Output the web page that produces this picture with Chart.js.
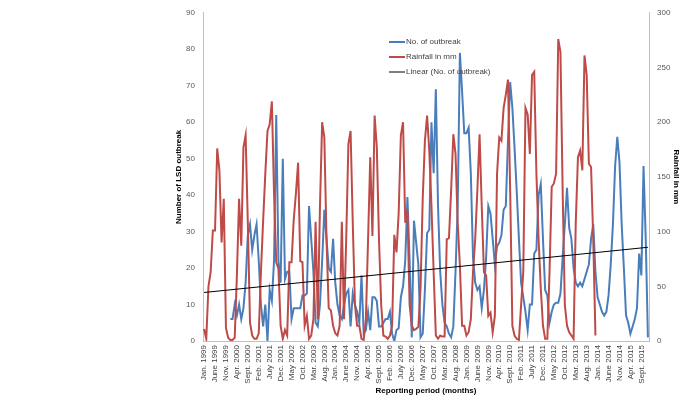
<!DOCTYPE html>
<html>
<head>
<meta charset="utf-8">
<script src="https://cdn.jsdelivr.net/npm/chart.js@4.4.1/dist/chart.umd.min.js"></script>
<style>
  html, body { margin: 0; padding: 0; background: #fff; }
  #lsdChart { display: block; }
</style>
</head>
<body>
<canvas id="lsdChart" width="683" height="398"></canvas>
<script>
Chart.defaults.font.family = "'Liberation Sans', Arial, sans-serif";
Chart.defaults.font.size = 8;
Chart.defaults.color = '#595959';

// months Jan 1999 .. Dec 2015
const monthNames = ['Jan.', 'Feb.', 'Mar.', 'Apr.', 'May', 'June', 'July', 'Aug.', 'Sept.', 'Oct.', 'Nov.', 'Dec.'];
const firstYear = 1999;
const lastYear = 2015;

// no. of LSD outbreaks per month (starts Jan 2000)
const outbreaks = [
  null, null, null, null, null, null, null, null, null, null, null, null,
  6, 6, 10, 7, 10, 6, 9, 16, 29, 32, 25, 29,
  32, 22, 10, 4, 10, 0, 14, 11, 22, 62, 22, 16,
  50, 17, 19, 19, 6, 9, 9, 9, 9, 12.5, 12.5, 13,
  37, 28, 19, 5, 4, 10, 22, 36, 28, 20, 19, 28,
  16, 10, 7, 6, 10, 13, 14, 4, 13, 10, 8, 5,
  18, 2, 3, 8, 3, 12, 12, 11, 4, 4, 5, 6,
  6, 8, 2, 0, 3, 3.5, 12, 15, 22, 39.5, 22, 1,
  33, 27, 21, 1, 2, 14, 29.6, 30.5, 60, 46, 69, 37,
  19, 10, 5, 4, 2, 1, 4, 19, 37, 79, 68.5, 57,
  57, 58.5, 46, 23, 16, 14, 15, 9, 14, 23, 37, 35,
  28, 21, 26, 27, 29, 36, 37, 55, 71, 64, 53, 41,
  28, 16, 12, 8, 3, 10, 10, 24, 25, 40, 43, 28,
  14, 12.5, 5, 8, 10, 10.5, 10.5, 13, 23, 32, 42, 31,
  28, 20, 16, 15, 16, 15, 17, 19, 21, 28, 32, 19,
  12, 10, 8, 7, 8, 12.5, 21, 32, 48, 56, 49, 32,
  20, 7, 5, 2, 4, 6, 9, 24, 18, 48, 28, 1
];

// monthly rainfall in mm (ends Dec 2013)
const rainfall = [
  11, 2, 50, 63, 101, 101, 176, 156, 90, 130, 12, 3,
  1, 1, 3, 60, 130, 87, 177, 188, 108, 17, 5, 2,
  2, 7, 63, 110, 153, 192, 198, 219, 135, 72, 66, 14,
  2, 10, 5, 72, 72, 111, 135, 163, 73, 72, 14, 23,
  2, 5, 20, 109, 20, 123, 200, 186, 93, 30, 28, 14,
  7, 5, 14, 109, 20, 93, 180, 192, 108, 33, 14, 14,
  2, 1, 20, 93, 168, 96, 206, 177, 93, 33, 5, 4,
  2, 5, 14, 97, 81, 117, 188, 200, 108, 120, 33, 14,
  10, 11, 13, 48, 130, 183, 206, 174, 123, 63, 5, 2,
  5, 4, 4, 93, 94, 138, 189, 171, 108, 69, 14, 14,
  5, 8, 20, 63, 93, 138, 189, 123, 63, 60, 23, 26,
  8, 23, 153, 186, 183, 213, 225, 239, 138, 14, 5, 2,
  1, 33, 63, 213, 207, 171, 243, 246, 153, 93, 48, 14,
  2, 2, 63, 141, 144, 153, 276, 264, 138, 33, 14, 8,
  5, 2, 108, 168, 174, 156, 261, 243, 162, 159, 93, 5
];

// linear trend of outbreaks, read at first and last month
const trendStart = 13.3;
const trendEnd = 25.7;

const months = [];
for (let y = firstYear; y <= lastYear; y++) {
  monthNames.forEach(m => months.push(m + ' ' + y));
}
const trend = months.map((m, i) => i === 0 ? trendStart : (i === months.length - 1 ? trendEnd : null));

const blue = '#4A7EBB';
const red = '#BE4B48';

const legendBox = {
  id: 'legendBox',
  afterDraw(chart) {
    const ctx = chart.ctx;
    const x0 = 389, y0 = 42, rowH = 15;
    ctx.save();
    chart.data.datasets.forEach((ds, i) => {
      const y = y0 + i * rowH;
      ctx.strokeStyle = ds.borderColor;
      ctx.lineWidth = ds.borderWidth;
      ctx.beginPath();
      ctx.moveTo(x0, y);
      ctx.lineTo(x0 + 16, y);
      ctx.stroke();
      ctx.fillStyle = '#404040';
      ctx.font = "8px 'Liberation Sans', Arial, sans-serif";
      ctx.textBaseline = 'middle';
      ctx.fillText(ds.label, x0 + 17, y);
    });
    ctx.restore();
  }
};

new Chart('lsdChart', {
  type: 'line',
  data: {
    labels: months,
    datasets: [
      { label: 'No. of outbreak', data: outbreaks, borderColor: blue, borderWidth: 2, pointRadius: 0, yAxisID: 'y', order: 2 },
      { label: 'Rainfall in mm', data: rainfall, borderColor: red, borderWidth: 2, pointRadius: 0, yAxisID: 'y1', order: 1 },
      { label: 'Linear (No. of outbreak)', data: trend, borderColor: '#000', borderWidth: 1, pointRadius: 0, spanGaps: true, yAxisID: 'y', order: 0 }
    ]
  },
  options: {
    responsive: false,
    animation: false,
    layout: { padding: { left: 170, top: 8, right: 0, bottom: 0 } },
    plugins: { legend: { display: false }, tooltip: { enabled: false } },
    scales: {
      x: {
        offset: true,
        grid: { display: false, drawTicks: false },
        border: { color: '#BFBFBF' },
        ticks: {
          autoSkip: false, maxRotation: 90, minRotation: 90, padding: 4, color: '#404040',
          callback: (v, i) => i % 5 === 0 ? months[i] : ''
        },
        title: { display: true, text: 'Reporting period (months)', font: { weight: 'bold', size: 8 }, padding: 2, color: '#000' },
        afterFit: s => { s.height = 57; }
      },
      y: {
        position: 'left', min: 0, max: 90,
        grid: { display: false, drawTicks: false },
        border: { color: '#BFBFBF' },
        ticks: { stepSize: 10, padding: 8 },
        title: { display: true, text: 'Number of LSD outbreak', font: { weight: 'bold', size: 8 }, padding: 4, color: '#000' },
        afterFit: s => { s.width = 33; }
      },
      y1: {
        position: 'right', min: 0, max: 300,
        grid: { display: false, drawTicks: false },
        border: { color: '#BFBFBF' },
        ticks: { stepSize: 50, padding: 8 },
        title: { display: true, text: 'Rainfall in mm', font: { weight: 'bold', size: 8 }, padding: 2, color: '#000' },
        afterFit: s => { s.width = 34; }
      }
    }
  },
  plugins: [legendBox]
});
</script>
</body>
</html>
